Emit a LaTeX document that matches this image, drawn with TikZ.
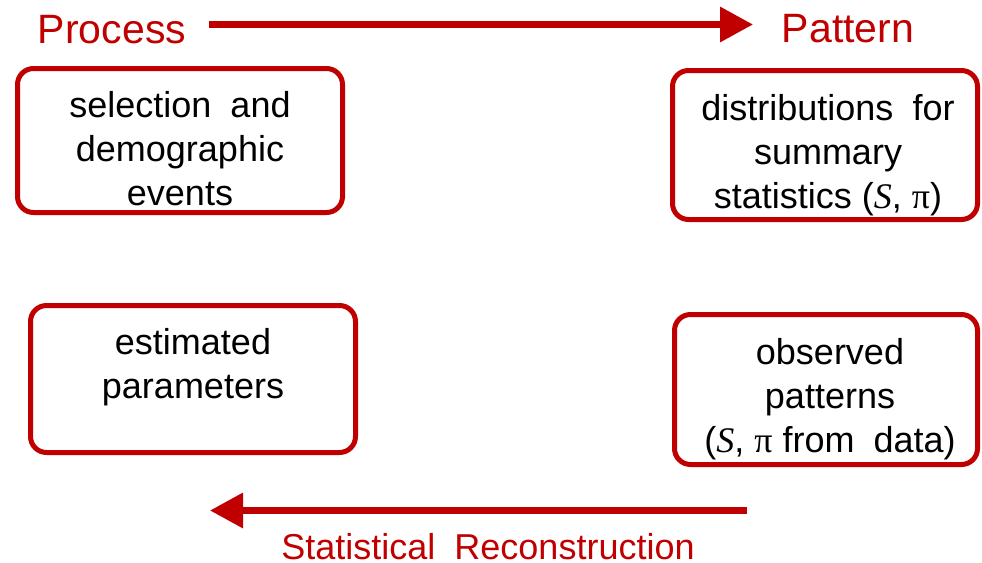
\documentclass[tikz,border=0pt]{standalone}
\usepackage{fontspec}
\setmainfont{Liberation Sans}
\newfontfamily\seriffont{Liberation Serif}
\usetikzlibrary{arrows.meta}
\definecolor{darkred}{HTML}{C00000}
\newcommand\wsp{\hspace{0.53em}}
\newcommand\mS{{\seriffont\itshape S}}
\newcommand\mpi{{\seriffont π}}
\begin{document}
\begin{tikzpicture}[x=1pt,y=-1pt,
  box/.style={draw=darkred, line width=5pt, rounded corners=16pt, inner sep=0pt},
  boxtext/.style={anchor=base, align=center, inner sep=0pt, font=\fontsize{36}{44}\selectfont},
  title/.style={anchor=base, inner sep=0pt, text=darkred, font=\fontsize{41}{49}\selectfont},
  arr/.style={draw=darkred, line width=6.5pt, -{Triangle[length=33pt,width=34pt]}}]
\useasboundingbox (0,0) rectangle (982,562);

% boxes
\node[box, minimum width=325pt, minimum height=144pt] (b1) at (180,140.5) {};
\node[box, minimum width=305pt, minimum height=149pt] (b2) at (825,145) {};
\node[box, minimum width=325pt, minimum height=147pt] (b3) at (193,379) {};
\node[box, minimum width=303pt, minimum height=150pt] (b4) at (826,389.5) {};

% box texts (base anchor = baseline of last line)
\node[boxtext] (t1) at (180,205) {selection\wsp and\\demographic\\events};
\node[boxtext] (t2) at (828,208) {distributions\wsp for\\summary\\statistics (\mS, \mpi)};
\node[boxtext] (t3) at (193,398) {estimated\\parameters};
\node[boxtext] (t4) at (830,452) {observed\\patterns\\(\mS, \mpi\ from\wsp data)};

% titles
\node[title] (proc) at (112,43) {Process};
\node[title] (patt) at (848,42) {Pattern};
\node[title, font=\fontsize{36}{44}\selectfont] (stat) at (488,559) {Statistical\wsp Reconstruction};

% arrows
\coordinate (a1) at (209,24.5);
\coordinate (a2) at (753,24.5);
\coordinate (r1) at (747,510.5);
\coordinate (r2) at (210,510.5);
\draw[arr] (a1) -- (a2);
\draw[arr] (r1) -- (r2);
\end{tikzpicture}
\end{document}
